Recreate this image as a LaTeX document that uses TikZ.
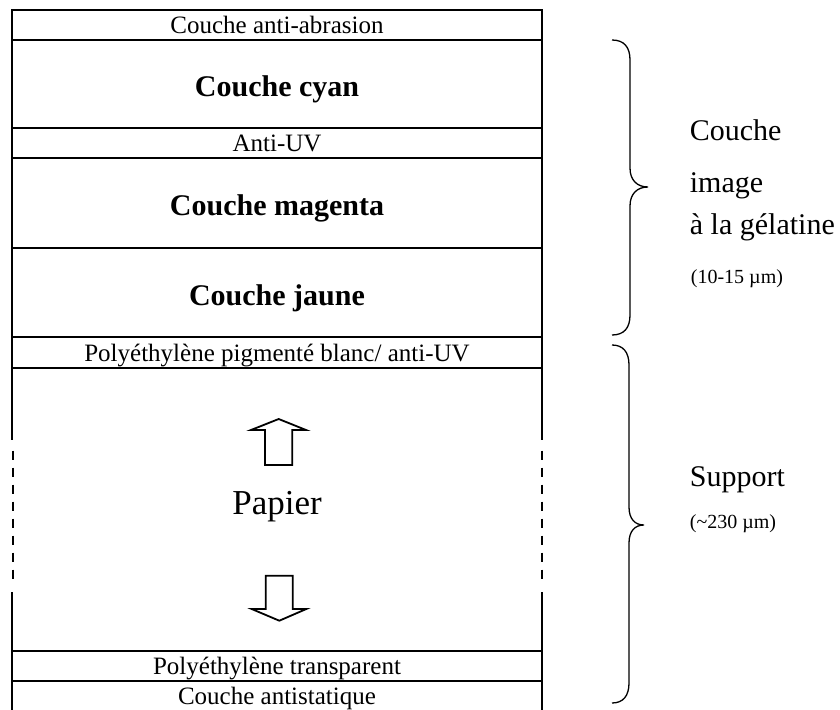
\documentclass[tikz,border=0pt]{standalone}
\usepackage{fontspec}
\setmainfont{Liberation Serif}
\usetikzlibrary{positioning}

\begin{document}
\begin{tikzpicture}[x=1pt, y=-1pt, line width=1.8pt,
    layer/.style={minimum width=530pt, inner sep=0pt, outer sep=0pt, text depth=0pt},
    thinlayer/.style={layer, draw, minimum height=30pt, text height=17pt, font=\fontsize{25}{30}\selectfont},
    thicklayer/.style={layer, draw, text height=25pt, font=\bfseries\fontsize{30}{36}\selectfont},
    sidelabel/.style={anchor=base west, inner sep=0pt, font=\fontsize{30}{36}\selectfont},
    sizelabel/.style={anchor=base west, inner sep=0pt, font=\fontsize{20}{24}\selectfont},
    brace/.style={line width=1.3pt}]
    \useasboundingbox (0,0) rectangle (840,709);

    % Couche image
    \node[thinlayer] (abrasion) at (277,25) {Couche anti-abrasion};
    \node[thicklayer, minimum height=88pt, below=0pt of abrasion] (cyan) {Couche cyan};
    \node[thinlayer, below=0pt of cyan] (antiuv) {Anti-UV};
    \node[thicklayer, minimum height=90pt, below=0pt of antiuv] (magenta) {Couche magenta};
    \node[thicklayer, minimum height=89pt, below=0pt of magenta] (jaune) {Couche jaune};

    % Support
    \node[thinlayer, minimum height=31pt, below=0pt of jaune] (pigment) {Polyéthylène pigmenté blanc/ anti-UV};
    \node[layer, minimum height=283pt, text height=9.6pt, font=\fontsize{35}{42}\selectfont, below=0pt of pigment] (papier) {Papier};
    \node[thinlayer, below=0pt of papier] (transparent) {Polyéthylène transparent};
    \node[layer, minimum height=30pt, text height=17pt, font=\fontsize{25}{30}\selectfont, below=0pt of transparent] (antistat) {Couche antistatique};

    % Papier sides (cut)
    \draw (papier.north west) -- ++(0,72);
    \draw (papier.north east) -- ++(0,72);
    \draw[dash pattern=on 9pt off 8pt] (papier.north west) ++(1,82.7) -- ++(0,128.3);
    \draw[dash pattern=on 9pt off 8pt] (papier.north east) ++(0,82.7) -- ++(0,128.3);
    \draw (papier.south west) -- ++(0,-59.3);
    \draw (papier.south east) -- ++(0,-59.3);
    \draw (antistat.north west) -- (antistat.south west);
    \draw (antistat.north east) -- (antistat.south east);

    % Block arrows
    \draw (278.7,419) -- (306,430) -- (292.3,430) -- (292.3,465) -- (265,465) -- (265,430) -- (251,430) -- cycle;
    \draw (265.7,575.7) -- (292.7,575.7) -- (292.7,609) -- (306.3,609) -- (279.3,620.7) -- (251.7,609) -- (265.7,609) -- cycle;

    % Braces
    \draw[brace] (612,40) .. controls (624,40) and (630,47) .. (630,60) -- (630,168)
        .. controls (630,180) and (637,187) .. (648,187)
        .. controls (637,187) and (630,194) .. (630,206) -- (630,315)
        .. controls (630,328) and (624,335) .. (612,335);
    \draw[brace] (612,345) .. controls (623,345) and (629,352) .. (629,365) -- (629,507)
        .. controls (629,519) and (635,525) .. (644,525)
        .. controls (635,525) and (629,531) .. (629,543) -- (629,683)
        .. controls (629,696) and (623,703) .. (612,703);

    % Labels
    \node[sidelabel] (imagea) at (689,140) {Couche};
    \node[sidelabel] (imageb) at (689,192.5) {image};
    \node[sidelabel] (imagec) at (689,234.5) {à la gélatine};
    \node[sizelabel] (imaged) at (690,283) {(10-15 µm)};
    \node[sidelabel] (supporta) at (689,486.7) {Support};
    \node[sizelabel] (supportb) at (689,528) {(\textasciitilde230 µm)};
\end{tikzpicture}
\end{document}
